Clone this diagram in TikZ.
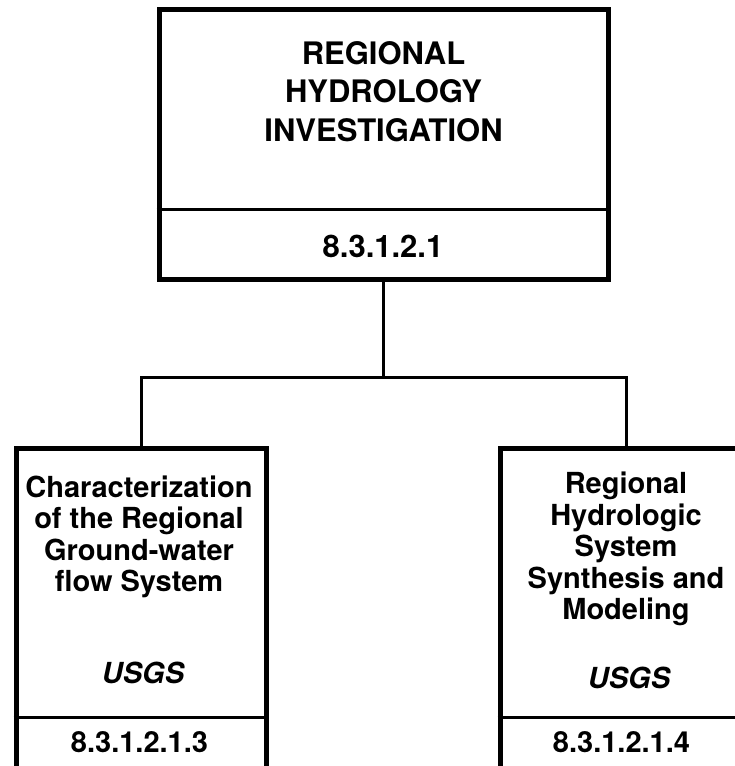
\documentclass[tikz,border=0pt]{standalone}
\usepackage{fontspec}
\setmainfont{TeX Gyre Heros}
\usetikzlibrary{positioning,calc}
\tikzset{
    wbsbox/.style={rectangle, draw=black, line width=5pt, inner sep=0pt},
    wbsrule/.style={line width=3pt, black},
    link/.style={line width=3pt, black},
    bigtext/.style={font=\fontsize{31}{38.5}\selectfont\bfseries, align=center, inner sep=0pt},
    subtext/.style={font=\fontsize{29}{31.5}\selectfont\bfseries, align=center, inner sep=0pt},
    orgtext/.style={font=\fontsize{29}{31.5}\selectfont\bfseries\itshape, inner sep=0pt},
}

\begin{document}
\begin{tikzpicture}[x=1pt, y=-1pt]
    \useasboundingbox (0,0) rectangle (735,766);
    \clip (0,0) rectangle (735,766);

    % Regional hydrology investigation
    \node[wbsbox, minimum width=449pt, minimum height=270pt] (reg) at (383.5,144.5) {};
    \coordinate (regcut) at (0,209);
    \draw[wbsrule] (reg.west |- regcut) -- (reg.east |- regcut);
    \node[bigtext] (regtitle) at (383.5,91.5) {REGIONAL\\HYDROLOGY\\INVESTIGATION};
    \node[bigtext, anchor=base] (regnum) at (383,257) {8.3.1.2.1};

    % Sub-activities
    \node[wbsbox, minimum width=250pt, minimum height=340pt] (chr) at (141,618) {};
    \node[wbsbox, minimum width=252pt, minimum height=340pt] (syn) at (626,618) {};
    \coordinate (subcut) at (0,717);
    \foreach \bname in {chr, syn} {
        \draw[wbsrule] (\bname.west |- subcut) -- (\bname.east |- subcut);
    }
    \node[subtext] (chrtitle) at (139,537) {Characterization\\of the Regional\\Ground-water\\flow System};
    \node[subtext] (syntitle) at (626,549) {Regional\\Hydrologic\\System\\Synthesis and\\Modeling};
    \node[orgtext, anchor=base] (chrorg) at (143,683) {USGS};
    \node[orgtext, anchor=base] (synorg) at (629,688) {USGS};
    \node[subtext, anchor=base] (chrnum) at (139.5,752) {8.3.1.2.1.3};
    \node[subtext, anchor=base] (synnum) at (621.5,752) {8.3.1.2.1.4};

    % Connectors
    \coordinate (split) at (383.5,377);
    \draw[link] (reg.south) -- (split);
    \draw[link] (chr.north) |- (split);
    \draw[link] (syn.north) |- (split);
\end{tikzpicture}
\end{document}
